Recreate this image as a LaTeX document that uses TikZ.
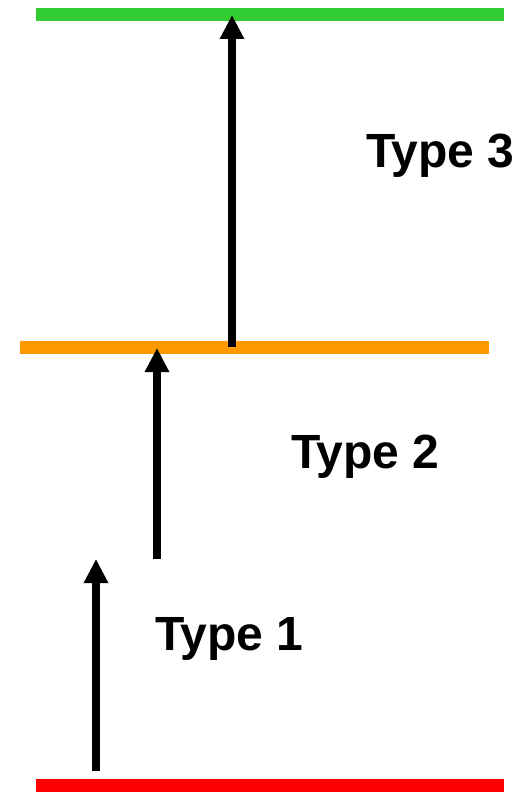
\documentclass[tikz,border=0pt]{standalone}
\usepackage{fontspec}
\setmainfont{Liberation Sans}
\usetikzlibrary{arrows.meta}
\definecolor{lvgreen}{RGB}{50,205,50}
\definecolor{lvorange}{RGB}{255,153,0}
\definecolor{lvred}{RGB}{255,0,0}
\tikzset{
  level/.style={line width=13pt},
  trans/.style={line width=8pt,-{Triangle[width=23pt,length=24pt]}},
  lbl/.style={anchor=base west,inner sep=0pt,font=\fontsize{48}{52}\selectfont\bfseries}
}
\begin{document}
\begin{tikzpicture}[x=1pt,y=-1pt]
\useasboundingbox (0,0) rectangle (521,792);
\coordinate (g1) at (36,14.5);
\coordinate (g2) at (504,14.5);
\coordinate (o1) at (20,347);
\coordinate (o2) at (489,347);
\coordinate (r1) at (36,785.5);
\coordinate (r2) at (504,785.5);
\draw[level,lvgreen] (g1) -- (g2);
\draw[level,lvorange] (o1) -- (o2);
\draw[level,lvred] (r1) -- (r2);
\coordinate (a1s) at (96,771);
\coordinate (a1e) at (96,559);
\coordinate (a2s) at (157,559);
\coordinate (a2e) at (157,348);
\coordinate (a3s) at (232,347);
\coordinate (a3e) at (232,15);
\draw[trans] (a1s) -- (a1e);
\draw[trans] (a2s) -- (a2e);
\draw[trans] (a3s) -- (a3e);
\node[lbl] (t1) at (155,650) {Type 1};
\node[lbl] (t2) at (291,468) {Type 2};
\node[lbl] (t3) at (366,167) {Type 3};
\end{tikzpicture}
\end{document}
